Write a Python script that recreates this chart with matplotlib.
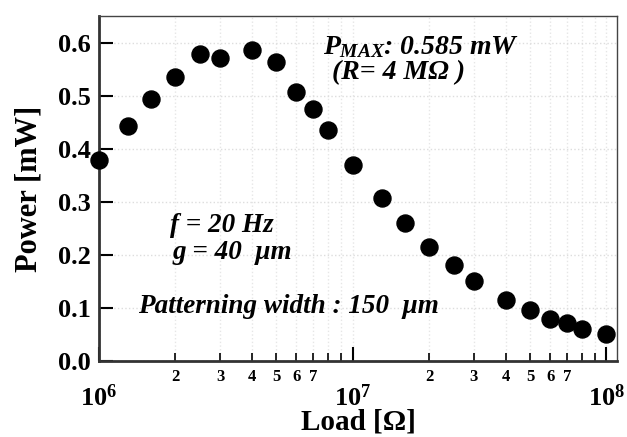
import numpy as np
import matplotlib
matplotlib.use('Agg')
import matplotlib.pyplot as plt
from matplotlib.ticker import LogLocator, FuncFormatter, MultipleLocator

plt.rcParams['font.family'] = 'Liberation Serif'
plt.rcParams['font.weight'] = 'bold'
plt.rcParams['mathtext.fontset'] = 'custom'
plt.rcParams['mathtext.rm'] = 'Liberation Serif:bold'
plt.rcParams['mathtext.it'] = 'Liberation Serif:bold:italic'
plt.rcParams['mathtext.bf'] = 'Liberation Serif:bold'

# Load resistance [ohm] and measured power [mW]
load = [1.0e6, 1.3e6, 1.6e6, 2.0e6, 2.5e6, 3.0e6, 4.0e6, 5.0e6, 6.0e6, 7.0e6, 8.0e6,
        1.0e7, 1.3e7, 1.6e7, 2.0e7, 2.5e7, 3.0e7, 4.0e7, 5.0e7, 6.0e7, 7.0e7, 8.0e7, 1.0e8]
power = [0.378, 0.443, 0.494, 0.535, 0.579, 0.572, 0.586, 0.563, 0.507, 0.475, 0.436,
         0.370, 0.308, 0.260, 0.214, 0.180, 0.150, 0.115, 0.096, 0.080, 0.071, 0.060, 0.051]

fig = plt.figure(figsize=(6.27, 4.37), dpi=100)
ax = fig.add_axes([0.158, 0.174, 0.826, 0.789])

ax.scatter(load, power, s=150, c='black', zorder=3, clip_on=False)

ax.set_xscale('log')
ax.set_xlim(1e6, 1.1e8)
ax.set_ylim(0, 0.65)

# Ticks
ax.xaxis.set_major_locator(LogLocator(base=10))
ax.xaxis.set_minor_locator(LogLocator(base=10, subs=np.arange(2, 10)))

def minor_fmt(x, pos):
    d = int(round(x / 10**np.floor(np.log10(x))))
    return str(d) if d <= 7 else ''

ax.xaxis.set_minor_formatter(FuncFormatter(minor_fmt))
ax.yaxis.set_major_locator(MultipleLocator(0.1))
ax.yaxis.set_major_formatter(FuncFormatter(lambda v, p: '%.1f' % v))

ax.tick_params(axis='x', which='major', direction='in', length=10, width=1.5,
               pad=17, labelsize=19)
ax.tick_params(axis='x', which='minor', direction='in', length=6, width=1.2,
               pad=6, labelsize=12)
ax.tick_params(axis='y', which='major', direction='in', length=10, width=1.5,
               pad=6, labelsize=19)
ax.tick_params(top=False, right=False, which='both')

ax.grid(True, which='major', axis='y', color='#dddddd', linestyle=':', linewidth=1)
ax.grid(True, which='both', axis='x', color='#e6e6e6', linestyle=':', linewidth=1)
ax.set_axisbelow(True)

for side in ['left', 'bottom']:
    ax.spines[side].set_linewidth(2)
    ax.spines[side].set_color('#333333')
for side in ['top', 'right']:
    ax.spines[side].set_linewidth(1)
    ax.spines[side].set_color('#444444')

ax.set_xlabel('Load [Ω]', fontsize=21, fontweight='bold', labelpad=-2)
ax.set_ylabel('Power [mW]', fontsize=22, fontweight='bold', labelpad=10)

# Annotations
ax.text(0.432, 0.91, r'$P_{MAX}$: 0.585 mW', transform=ax.transAxes,
        fontsize=20, fontstyle='italic', fontweight='bold', va='center')
ax.text(0.45, 0.835, '(R= 4 MΩ )', transform=ax.transAxes,
        fontsize=20, fontstyle='italic', fontweight='bold', va='center')
ax.text(0.137, 0.394, 'f = 20 Hz', transform=ax.transAxes,
        fontsize=19.5, fontstyle='italic', fontweight='bold', va='center')
ax.text(0.141, 0.316, 'g = 40  μm', transform=ax.transAxes,
        fontsize=19.5, fontstyle='italic', fontweight='bold', va='center')
ax.text(0.075, 0.159, 'Patterning width : 150  μm', transform=ax.transAxes,
        fontsize=19.5, fontstyle='italic', fontweight='bold', va='center')

fig.savefig('out.png', dpi=100)
